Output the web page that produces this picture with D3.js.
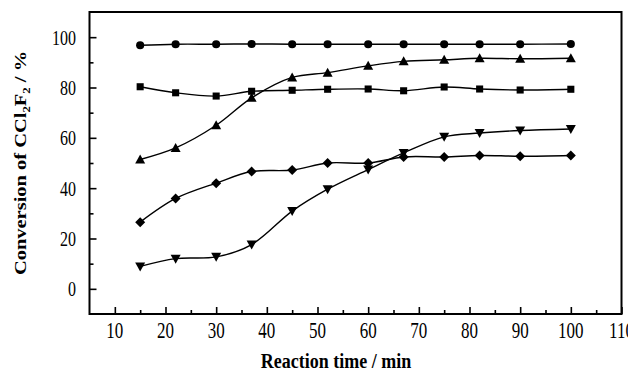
<!DOCTYPE html>
<html><head><meta charset="utf-8">
<script src="https://cdn.jsdelivr.net/npm/d3@7"></script>
<style>
html,body{margin:0;padding:0;background:#fff;}
svg{display:block;}
</style></head>
<body>
<svg id="chart" width="628" height="372" font-family="'Liberation Serif', 'Times New Roman', Times, 'DejaVu Serif', serif"></svg>
<script>
// ---- data ----
const times = [15, 22, 30, 37, 45, 52, 60, 67, 75, 82, 90, 100];
const circleSeries   = [96.8, 97.2, 97.2, 97.3, 97.2, 97.2, 97.2, 97.2, 97.2, 97.2, 97.2, 97.3];
const squareSeries   = [80.3, 77.9, 76.6, 78.5, 78.9, 79.3, 79.4, 78.7, 80.2, 79.4, 79.0, 79.3];
const triUpSeries    = [51.4, 56.0, 65.0, 75.9, 84.0, 85.9, 88.6, 90.4, 91.0, 91.6, 91.4, 91.6];
const diamondSeries  = [26.5, 35.9, 42.0, 46.6, 47.2, 50.0, 50.0, 52.4, 52.4, 53.0, 52.7, 53.0];
const triDownSeries  = [8.9, 12.0, 12.7, 17.6, 30.9, 39.6, 47.4, 54.0, 60.4, 61.9, 62.9, 63.5];
const xTicks = [10, 20, 30, 40, 50, 60, 70, 80, 90, 100, 110];
const xMinor = [15, 25, 35, 45, 55, 65, 75, 85, 95, 105];
const yTicks = [0, 20, 40, 60, 80, 100];
const yMinor = [10, 30, 50, 70, 90];
const xLabel = "Reaction time / min";

const series = [
  {name: "circle", values: circleSeries},
  {name: "square", values: squareSeries},
  {name: "triUp", values: triUpSeries},
  {name: "diamond", values: diamondSeries},
  {name: "triDown", values: triDownSeries}
];

const FONT = "'Liberation Serif', 'Times New Roman', Times, 'DejaVu Serif', serif";

// ---- layout ----
const L = 89.5, R = 621.5, T = 12, B = 314;
const svg = d3.select("#chart");
const x = d3.scaleLinear().domain([5, 110]).range([L, R]);
const y = d3.scaleLinear().domain([-10, 110]).range([B, T]);

// axes ticks (inward)
const gx = svg.append("g").attr("transform", `translate(0,${B})`);
gx.call(d3.axisBottom(x).tickValues(xTicks).tickSize(-7).tickFormat(""));
const gxm = svg.append("g").attr("transform", `translate(0,${B})`);
gxm.call(d3.axisBottom(x).tickValues(xMinor).tickSize(-4).tickFormat(""));
const gy = svg.append("g").attr("transform", `translate(${L},0)`);
gy.call(d3.axisLeft(y).tickValues(yTicks).tickSize(-7).tickFormat(""));
const gym = svg.append("g").attr("transform", `translate(${L},0)`);
gym.call(d3.axisLeft(y).tickValues(yMinor).tickSize(-4).tickFormat(""));
svg.selectAll(".domain").remove();
svg.selectAll(".tick line").attr("stroke", "#000").attr("stroke-width", 1.6);

// frame
svg.append("rect").attr("x", L).attr("y", T).attr("width", R - L).attr("height", B - T)
  .attr("fill", "none").attr("stroke", "#000").attr("stroke-width", 2);

// tick labels
svg.append("g").selectAll("g").data(xTicks).join("g")
  .attr("transform", d => `translate(${x(d)},338)`)
  .append("text").attr("text-anchor", "middle").attr("font-size", 17).attr("font-family", FONT)
  .attr("transform", "scale(1,1.33)").text(d => d);
svg.append("g").selectAll("g").data(yTicks).join("g")
  .attr("transform", d => `translate(76,${y(d) + 7.5})`)
  .append("text").attr("text-anchor", "end").attr("font-size", 16).attr("font-family", FONT)
  .attr("transform", "scale(1,1.36)").text(d => d);

// axis titles
svg.append("g").attr("transform", "translate(336,368)")
  .append("text").attr("text-anchor", "middle").attr("font-size", 18).attr("font-weight", "bold")
  .attr("font-family", FONT)
  .attr("transform", "scale(1,1.22)").text(xLabel);

const yl = svg.append("g").attr("transform", "translate(26,163) rotate(-90) scale(1.28,1)")
  .append("text").attr("text-anchor", "middle").attr("font-size", 16).attr("font-weight", "bold")
  .attr("font-family", FONT);
yl.append("tspan").text("Conversion of CCl");
yl.append("tspan").attr("font-size", 10).attr("dy", 4).text("2");
yl.append("tspan").attr("dy", -4).text("F");
yl.append("tspan").attr("font-size", 10).attr("dy", 4).text("2");
yl.append("tspan").attr("dy", -4).text(" / %");

// lines
const line = d3.line().x(d => x(d[0])).y(d => y(d[1])).curve(d3.curveCatmullRom.alpha(0.5));
series.forEach(s => {
  const pts = times.map((t, i) => [t, s.values[i]]);
  svg.append("path").datum(pts).attr("d", line)
    .attr("fill", "none").attr("stroke", "#000").attr("stroke-width", 1.4);
});

// markers
const markerPath = {
  circle: d3.symbol(d3.symbolCircle, 52)(),
  square: d3.symbol(d3.symbolSquare, 50)(),
  triUp: "M0,-5L5,4L-5,4Z",
  triDown: "M0,5L5,-4L-5,-4Z",
  diamond: "M0,-5L5,0L0,5L-5,0Z"
};
series.forEach(s => {
  svg.append("g").selectAll("path").data(times.map((t, i) => [t, s.values[i]])).join("path")
    .attr("d", markerPath[s.name])
    .attr("transform", d => `translate(${x(d[0])},${y(d[1])})`)
    .attr("fill", "#000");
});
</script>
</body></html>
